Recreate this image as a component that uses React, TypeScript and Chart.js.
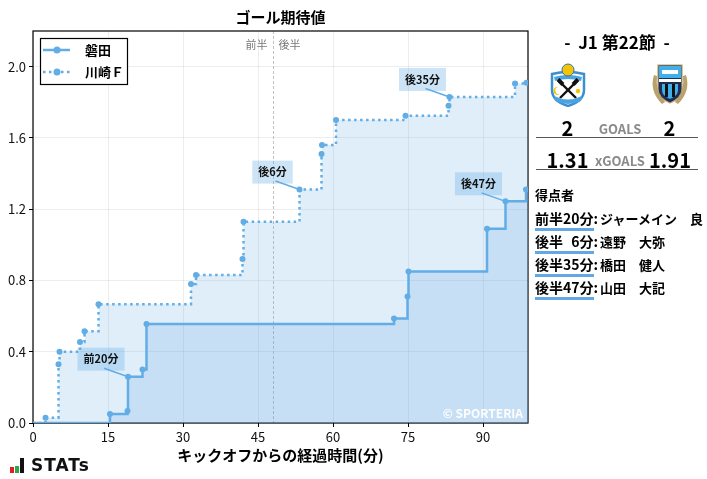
import React, { useEffect, useRef } from "react";
import { Chart, registerables } from "chart.js";

Chart.register(...registerables);

// ---------- data ----------
const teamNames = ["磐田", "川崎Ｆ"];
const jubiloMinutes = [0, 15.4, 18.9, 19.0, 21.9, 22.7, 72.2, 74.9, 75.1, 90.8, 94.5, 98.6, 99];
const jubiloXg = [0, 0.05, 0.067, 0.26, 0.3, 0.556, 0.587, 0.71, 0.85, 1.09, 1.244, 1.31, 1.31];
const kawasakiMinutes = [0, 2.5, 5.1, 5.3, 9.4, 10.3, 13.1, 31.6, 32.6, 41.9, 42.1, 53.3, 57.7, 57.8, 60.6, 74.5, 83.1, 83.3, 96.4, 98.7, 99];
const kawasakiXg = [0, 0.03, 0.33, 0.4, 0.454, 0.515, 0.667, 0.78, 0.83, 0.92, 1.13, 1.31, 1.51, 1.56, 1.7, 1.725, 1.78, 1.83, 1.905, 1.91, 1.91];
const xTickValues = [0, 15, 30, 45, 60, 75, 90];
const yTickValues = [0, 0.4, 0.8, 1.2, 1.6, 2.0];
const xMax = 99;
const yMax = 2.2;
const halfTimeMinute = 47.9;
const goalLabels = ["前20分", "後6分", "後35分", "後47分"];
const goalMinutes = [19.0, 53.3, 83.3, 94.5];
const goalXg = [0.26, 1.31, 1.83, 1.244];
const scoreGoals = ["2", "2"];
const scoreXg = ["1.31", "1.91"];
const scorerHalves = ["前半", "後半", "後半", "後半"];
const scorerMins = ["20", "6", "35", "47"];
const scorerNames = ["ジャーメイン　良", "遠野　大弥", "橋田　健人", "山田　大記"];
const matchTitle = "J1 第22節";
const chartTitle = "ゴール期待値";
const xAxisTitle = "キックオフからの経過時間(分)";

// ---------- styles ----------
const FONT = "'Noto Sans CJK JP', 'Noto Sans', sans-serif";
const LINE = "#62ade6";

const overlayPlugin = {
  id: "overlay",
  beforeDatasetsDraw(chart: any) {
    const { ctx, chartArea: a, scales } = chart;
    const x = scales.x;
    ctx.save();
    const hx = Math.round(x.getPixelForValue(halfTimeMinute)) + 0.5;
    ctx.strokeStyle = "#c2c2c2";
    ctx.lineWidth = 1;
    ctx.setLineDash([3, 2]);
    ctx.beginPath();
    ctx.moveTo(hx, a.top);
    ctx.lineTo(hx, a.bottom);
    ctx.stroke();
    ctx.setLineDash([]);
    ctx.strokeStyle = "#000";
    ctx.lineWidth = 1.2;
    ctx.strokeRect(a.left, a.top, a.right - a.left, a.bottom - a.top);
    ctx.restore();
  },
  afterDraw(chart: any) {
    const { ctx, chartArea: a, scales } = chart;
    const x = scales.x;
    const y = scales.y;
    ctx.save();
    ctx.fillStyle = "#000";
    ctx.font = `bold 15px ${FONT}`;
    ctx.textAlign = "center";
    ctx.textBaseline = "middle";
    ctx.fillText(chartTitle, (a.left + a.right) / 2, 17);
    const hx = x.getPixelForValue(halfTimeMinute);
    ctx.font = `11px ${FONT}`;
    ctx.fillStyle = "#777";
    ctx.textAlign = "right";
    ctx.fillText("前半", hx - 5, a.top + 14);
    ctx.textAlign = "left";
    ctx.fillText("後半", hx + 6, a.top + 14);
    ctx.font = `bold 11px ${FONT}`;
    goalLabels.forEach((lab, i) => {
      const px = x.getPixelForValue(goalMinutes[i]);
      const py = y.getPixelForValue(goalXg[i]);
      const cx = px - 27;
      const cy = py - 17.5;
      const w = ctx.measureText(lab).width + 12;
      const h = 23;
      ctx.fillStyle = "rgba(100,170,230,0.32)";
      ctx.fillRect(cx - w / 2, cy - h / 2, w, h);
      ctx.strokeStyle = LINE;
      ctx.lineWidth = 1.5;
      ctx.beginPath();
      ctx.moveTo(cx + 3, cy + 9);
      ctx.lineTo(px, py);
      ctx.stroke();
      ctx.fillStyle = "#111";
      ctx.textAlign = "center";
      ctx.textBaseline = "middle";
      ctx.fillText(lab, cx, cy);
    });
    ctx.font = `bold 12px ${FONT}`;
    ctx.fillStyle = "rgba(255,255,255,0.95)";
    ctx.textAlign = "right";
    ctx.textBaseline = "middle";
    ctx.fillText("© SPORTERIA", a.right - 5, a.bottom - 10);
    const lx = a.left + 7;
    const ly = a.top + 7;
    ctx.fillStyle = "#fff";
    ctx.fillRect(lx, ly, 87, 46);
    ctx.strokeStyle = "#000";
    ctx.lineWidth = 1.2;
    ctx.strokeRect(lx + 0.5, ly + 0.5, 87, 46);
    [0, 1].forEach((k) => {
      const yy = ly + 12 + k * 22;
      ctx.strokeStyle = LINE;
      ctx.lineWidth = 2.5;
      ctx.setLineDash(k === 1 ? [2.5, 3.5] : []);
      ctx.beginPath();
      ctx.moveTo(lx + 3, yy);
      ctx.lineTo(lx + 30, yy);
      ctx.stroke();
      ctx.setLineDash([]);
      ctx.fillStyle = LINE;
      ctx.beginPath();
      ctx.arc(lx + 17, yy, 3.5, 0, Math.PI * 2);
      ctx.fill();
      ctx.fillStyle = "#000";
      ctx.font = `bold 13px ${FONT}`;
      ctx.textAlign = "left";
      ctx.textBaseline = "middle";
      ctx.fillText(teamNames[k], lx + 45, yy);
    });
    ctx.restore();
  },
};

function JubiloLogo() {
  return (
    <svg width="40" height="44" viewBox="0 0 40 44" style={{ position: "absolute", left: 548, top: 63 }}>
      <path d="M4 11 Q20 7 36 11 L36 27 Q36 38 20 43 Q4 38 4 27 Z" fill="#fff" stroke="#3d8fd2" strokeWidth="2.5" />
      <path d="M6 14 Q20 10 34 14 L33 18 Q20 14 7 18 Z" fill="#4aa3e0" />
      <circle cx="20" cy="7" r="6" fill="#f4c400" stroke="#2f73b8" strokeWidth="1" />
      <line x1="12" y1="19" x2="28" y2="35" stroke="#111" strokeWidth="2.4" />
      <line x1="28" y1="19" x2="12" y2="35" stroke="#111" strokeWidth="2.4" />
      <rect x="9" y="17" width="7" height="4" fill="#111" transform="rotate(45 12.5 19)" />
      <rect x="24" y="17" width="7" height="4" fill="#111" transform="rotate(-45 27.5 19)" />
      <path d="M10 24 A4 4 0 1 0 12 31 A3 3 0 1 1 10 24 Z" fill="#f4c400" />
      <circle cx="30" cy="28" r="2.2" fill="#f4c400" />
      <path d="M6 33 Q20 40 34 33 L33 38 Q20 44 7 38 Z" fill="#4aa3e0" />
    </svg>
  );
}

function KawasakiLogo() {
  return (
    <svg width="44" height="46" viewBox="0 0 44 46" style={{ position: "absolute", left: 648, top: 61 }}>
      <path d="M6 14 Q1 30 14 43 L17 41 Q7 30 9 15 Z" fill="#b9a26c" />
      <path d="M38 14 Q43 30 30 43 L27 41 Q37 30 35 15 Z" fill="#b9a26c" />
      <path d="M10 4 L34 4 L34 28 Q34 37 22 42 Q10 37 10 28 Z" fill="#1d2f55" stroke="#b9a26c" strokeWidth="1.2" />
      <rect x="11" y="5" width="22" height="12" fill="#3fb0ea" />
      <rect x="14" y="9" width="16" height="4" fill="#fff" />
      <rect x="11" y="18" width="22" height="3" fill="#fff" />
      <path d="M14 23 L30 23 L30 29 Q30 35 22 38 Q14 35 14 29 Z" fill="#3fb0ea" />
      <rect x="17" y="23" width="3" height="13" fill="#111" />
      <rect x="24" y="23" width="3" height="13" fill="#111" />
    </svg>
  );
}

export default function App() {
  const canvasRef = useRef<HTMLCanvasElement | null>(null);

  useEffect(() => {
    if (!canvasRef.current) return;
    const lastJ = jubiloMinutes.length - 1;
    const lastK = kawasakiMinutes.length - 1;
    const chart = new Chart(canvasRef.current, {
      type: "line",
      data: {
        datasets: [
          {
            label: teamNames[0],
            data: jubiloMinutes.map((m, i) => ({ x: m, y: jubiloXg[i] })),
            stepped: true,
            borderColor: LINE,
            borderWidth: 2.5,
            backgroundColor: "rgba(93,160,222,0.2)",
            fill: "origin",
            pointRadius: (c: any) => (c.dataIndex === 0 || c.dataIndex === lastJ ? 0 : 3),
            pointBackgroundColor: LINE,
            pointBorderWidth: 0,
          },
          {
            label: teamNames[1],
            data: kawasakiMinutes.map((m, i) => ({ x: m, y: kawasakiXg[i] })),
            stepped: true,
            borderColor: LINE,
            borderWidth: 2.5,
            borderDash: [2.5, 3.5],
            backgroundColor: "rgba(100,168,228,0.2)",
            fill: "origin",
            pointRadius: (c: any) => (c.dataIndex === 0 || c.dataIndex === lastK ? 0 : 3),
            pointBackgroundColor: LINE,
            pointBorderWidth: 0,
          },
        ],
      } as any,
      options: {
        animation: false,
        responsive: false,
        devicePixelRatio: 1,
        layout: { padding: { top: 31, right: 179, left: 0, bottom: 15 } },
        plugins: { legend: { display: false }, tooltip: { enabled: false }, title: { display: false } },
        scales: {
          x: {
            type: "linear",
            min: 0,
            max: xMax,
            afterBuildTicks: (s: any) => {
              s.ticks = xTickValues.map((v) => ({ value: v }));
            },
            afterFit: (s: any) => {
              s.height = 41;
            },
            ticks: { font: { family: FONT, size: 13 }, color: "#111", padding: 2, maxRotation: 0, autoSkip: false },
            grid: { color: "rgba(0,0,0,0.07)", tickColor: "#000", tickLength: 4, lineWidth: 1 },
            border: { display: false },
            title: {
              display: true,
              text: xAxisTitle,
              color: "#000",
              font: { family: FONT, size: 15, weight: "bold" },
              padding: { top: 2, bottom: 0 },
            },
          },
          y: {
            type: "linear",
            min: 0,
            max: yMax,
            afterBuildTicks: (s: any) => {
              s.ticks = yTickValues.map((v) => ({ value: v }));
            },
            afterFit: (s: any) => {
              s.width = 33;
            },
            ticks: {
              font: { family: FONT, size: 13 },
              color: "#111",
              padding: 3,
              callback: (v: any) => Number(v).toFixed(1),
            },
            grid: { color: "rgba(0,0,0,0.07)", tickColor: "#000", tickLength: 4, lineWidth: 1 },
            border: { display: false },
          },
        },
      } as any,
      plugins: [overlayPlugin],
    });
    return () => chart.destroy();
  }, []);

  const abs = (s: React.CSSProperties): React.CSSProperties => ({ position: "absolute", ...s });

  return (
    <div style={{ position: "fixed", left: 0, top: 0, width: 707, height: 479, background: "#fff", fontFamily: FONT, color: "#000", overflow: "hidden" }}>
      <canvas ref={canvasRef} width={707} height={479} style={{ position: "absolute", left: 0, top: 0 }} />
      <div style={abs({ left: 537, width: 160, top: 30, textAlign: "center", fontWeight: 700, fontSize: 17, lineHeight: "24px", whiteSpace: "pre" })}>
        {"-  " + matchTitle + "  -"}
      </div>
      <JubiloLogo />
      <KawasakiLogo />
      <div style={abs({ left: 537, width: 61, top: 114, textAlign: "center", fontWeight: 700, fontSize: 20, lineHeight: "28px" })}>{scoreGoals[0]}</div>
      <div style={abs({ left: 590, width: 60, top: 119, textAlign: "center", fontWeight: 700, fontSize: 13, lineHeight: "20px", color: "#8a8a8a" })}>GOALS</div>
      <div style={abs({ left: 639, width: 61, top: 114, textAlign: "center", fontWeight: 700, fontSize: 20, lineHeight: "28px" })}>{scoreGoals[1]}</div>
      <div style={abs({ left: 536, width: 162, top: 137, height: 1, background: "#555" })} />
      <div style={abs({ left: 537, width: 61, top: 146, textAlign: "center", fontWeight: 700, fontSize: 20, lineHeight: "28px" })}>{scoreXg[0]}</div>
      <div style={abs({ left: 590, width: 60, top: 151, textAlign: "center", fontWeight: 700, fontSize: 13, lineHeight: "20px", color: "#8a8a8a" })}>xGOALS</div>
      <div style={abs({ left: 639, width: 62, top: 146, textAlign: "center", fontWeight: 700, fontSize: 20, lineHeight: "28px" })}>{scoreXg[1]}</div>
      <div style={abs({ left: 536, width: 162, top: 169, height: 1, background: "#555" })} />
      <div style={abs({ left: 535, top: 185, fontWeight: 700, fontSize: 13, lineHeight: "20px" })}>得点者</div>
      {scorerNames.map((name, i) => (
        <div key={i} style={abs({ left: 535, top: 208 + i * 23, fontWeight: 700, fontSize: 14, lineHeight: "20px", whiteSpace: "nowrap" })}>
          <span style={{ borderBottom: "3px solid #62a8e2", paddingBottom: 0 }}>
            {scorerHalves[i]}
            {scorerMins[i].length < 2 ? <span style={{ visibility: "hidden" }}>0</span> : null}
            {scorerMins[i]}分
          </span>
          <span>:</span>
          <span style={{ fontSize: 13, marginLeft: 2 }}>{name}</span>
        </div>
      ))}
      <div style={abs({ left: 10, top: 467, width: 4, height: 6, background: "#e02020" })} />
      <div style={abs({ left: 15, top: 466, width: 4, height: 7, background: "#2aa84a" })} />
      <div style={abs({ left: 20, top: 458, width: 4, height: 15, background: "#111" })} />
      <div style={abs({ left: 31, top: 455, fontWeight: 700, fontSize: 17, lineHeight: "20px", letterSpacing: 1, fontFamily: "'DejaVu Sans', sans-serif", color: "#111" })}>
        STATs
      </div>
    </div>
  );
}
